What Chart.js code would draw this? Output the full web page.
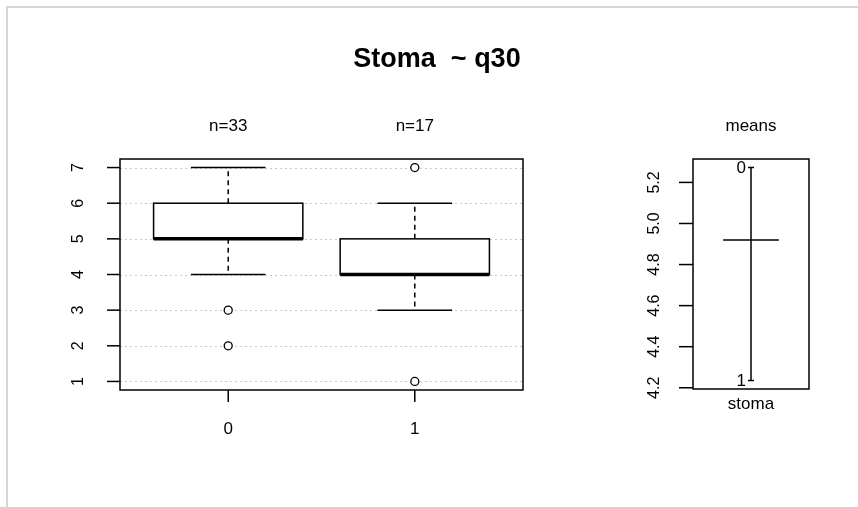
<!DOCTYPE html>
<html>
<head>
<meta charset="utf-8">
<script src="https://cdn.jsdelivr.net/npm/chart.js@4.4.1/dist/chart.umd.min.js"></script>
<style>
  body { margin: 0; background: #fff; }
  #wrap { position: relative; width: 858px; height: 507px; overflow: hidden; }
  #frame { position: absolute; left: 6px; top: 6px; width: 860px; height: 510px;
           border-left: 2px solid #d6d6d6; border-top: 2px solid #d6d6d6; }
  canvas { position: absolute; left: 0; top: 0; }
</style>
</head>
<body>
<div id="wrap">
  <div id="frame"></div>
  <canvas id="boxChart" width="858" height="507"></canvas>
  <canvas id="meanChart" width="858" height="507"></canvas>
</div>
<script>
// boxplot of Stoma by q30
const groups = ['0', '1'];
const groupN = [33, 17];
const q1 = [5, 4];
const medians = [5, 4];
const q3 = [6, 5];
const whiskLo = [4, 3];
const whiskHi = [7, 6];
const outliers = [[3, 2], [7, 1]];
const yTicks = [1, 2, 3, 4, 5, 6, 7];

// design plot (means)
const meanLevels = ['0', '1'];
const groupMeans = [5.2727, 4.2353];
const grandMean = 4.92;
const meanTicks = [4.2, 4.4, 4.6, 4.8, 5.0, 5.2];
const factorName = 'stoma';

const FONT = '"Liberation Sans", Arial, sans-serif';

// outliers as scatter points, x = group position (1, 2)
const outlierPoints = [];
outliers.forEach((vals, i) => {
    vals.forEach(v => outlierPoints.push({ x: i + 1, y: v }));
});

const boxPlugin = {
    id: 'boxPlugin',
    beforeDatasetsDraw(chart) {
        const { ctx, chartArea: a, scales: { x, y } } = chart;
        // dotted grid
        ctx.save();
        ctx.strokeStyle = '#c8c8c8';
        ctx.lineWidth = 1;
        ctx.setLineDash([2, 3]);
        yTicks.forEach(t => {
            const py = Math.round(y.getPixelForValue(t)) + 0.5;
            ctx.beginPath();
            ctx.moveTo(a.left, py);
            ctx.lineTo(a.right, py);
            ctx.stroke();
        });
        ctx.restore();
    },
    afterDatasetsDraw(chart) {
        const { ctx, chartArea: a, scales: { x, y } } = chart;
        ctx.save();
        ctx.strokeStyle = '#000';
        ctx.fillStyle = '#000';

        groups.forEach((g, i) => {
            const cx = x.getPixelForValue(i + 1);
            const bl = x.getPixelForValue(i + 1 - 0.4);
            const br = x.getPixelForValue(i + 1 + 0.4);
            const cl = x.getPixelForValue(i + 1 - 0.2);
            const cr = x.getPixelForValue(i + 1 + 0.2);
            const yq1 = y.getPixelForValue(q1[i]);
            const yq3 = y.getPixelForValue(q3[i]);
            const ylo = y.getPixelForValue(whiskLo[i]);
            const yhi = y.getPixelForValue(whiskHi[i]);
            const ymed = y.getPixelForValue(medians[i]);

            // whiskers (dashed)
            ctx.lineWidth = 1.5;
            ctx.setLineDash([5, 4]);
            ctx.beginPath();
            ctx.moveTo(cx, yq3); ctx.lineTo(cx, yhi);
            ctx.moveTo(cx, yq1); ctx.lineTo(cx, ylo);
            ctx.stroke();
            ctx.setLineDash([]);
            // caps
            ctx.beginPath();
            ctx.moveTo(cl, yhi); ctx.lineTo(cr, yhi);
            ctx.moveTo(cl, ylo); ctx.lineTo(cr, ylo);
            ctx.stroke();
            // box
            ctx.fillStyle = '#fff';
            ctx.fillRect(bl, yq3, br - bl, yq1 - yq3);
            ctx.strokeRect(bl, yq3, br - bl, yq1 - yq3);
            // median
            ctx.lineWidth = 3.5;
            ctx.beginPath();
            ctx.moveTo(bl, ymed); ctx.lineTo(br, ymed);
            ctx.stroke();
            ctx.fillStyle = '#000';

            // x tick + label
            ctx.lineWidth = 1.5;
            ctx.beginPath();
            ctx.moveTo(cx, a.bottom); ctx.lineTo(cx, a.bottom + 12);
            ctx.stroke();
            ctx.font = '17px ' + FONT;
            ctx.textAlign = 'center';
            ctx.textBaseline = 'middle';
            ctx.fillText(g, cx, a.bottom + 39);
            // n= labels
            ctx.fillText('n=' + groupN[i], cx, a.top - 33);
        });

        // frame
        ctx.lineWidth = 1.5;
        ctx.strokeRect(a.left, a.top, a.right - a.left, a.bottom - a.top);

        // y ticks + rotated labels
        ctx.font = '16px ' + FONT;
        yTicks.forEach(t => {
            const py = y.getPixelForValue(t);
            ctx.beginPath();
            ctx.moveTo(a.left - 13, py); ctx.lineTo(a.left, py);
            ctx.stroke();
            ctx.save();
            ctx.translate(a.left - 41, py);
            ctx.rotate(-Math.PI / 2);
            ctx.textAlign = 'center';
            ctx.textBaseline = 'middle';
            ctx.fillText(String(t), 0, 0);
            ctx.restore();
        });

        // title
        ctx.font = 'bold 27px ' + FONT;
        ctx.textAlign = 'center';
        ctx.textBaseline = 'middle';
        ctx.fillText('Stoma  ~ q30', 437, 60);
        ctx.restore();
    }
};

new Chart(document.getElementById('boxChart'), {
    type: 'scatter',
    data: {
        datasets: [{
            data: outlierPoints,
            pointStyle: 'circle',
            pointRadius: 4,
            pointBackgroundColor: '#fff',
            pointBorderColor: '#000',
            pointBorderWidth: 1.3
        }]
    },
    options: {
        responsive: false,
        animation: false,
        layout: { padding: { left: 120, right: 335, top: 159, bottom: 117 } },
        plugins: { legend: { display: false }, tooltip: { enabled: false } },
        scales: {
            x: { type: 'linear', min: 0.42, max: 2.58, display: false },
            y: { type: 'linear', min: 0.76, max: 7.24, display: false }
        }
    },
    plugins: [boxPlugin]
});

// means panel
const meanHalfWidth = 0.24;
const meanPlugin = {
    id: 'meanPlugin',
    afterDatasetsDraw(chart) {
        const { ctx, chartArea: a, scales: { x, y } } = chart;
        ctx.save();
        ctx.strokeStyle = '#000';
        ctx.fillStyle = '#000';
        ctx.lineWidth = 1.5;
        ctx.strokeRect(a.left, a.top, a.right - a.left, a.bottom - a.top);

        ctx.font = '16px ' + FONT;
        meanTicks.forEach(t => {
            const py = y.getPixelForValue(t);
            ctx.beginPath();
            ctx.moveTo(a.left - 14, py); ctx.lineTo(a.left, py);
            ctx.stroke();
            ctx.save();
            ctx.translate(a.left - 38, py);
            ctx.rotate(-Math.PI / 2);
            ctx.textAlign = 'center';
            ctx.textBaseline = 'middle';
            ctx.fillText(t.toFixed(1), 0, 0);
            ctx.restore();
        });

        // level labels next to the means
        ctx.font = '17px ' + FONT;
        ctx.textAlign = 'right';
        ctx.textBaseline = 'middle';
        meanLevels.forEach((lv, i) => {
            ctx.fillText(lv, x.getPixelForValue(1) - 5, y.getPixelForValue(groupMeans[i]) + 1);
        });

        ctx.textAlign = 'center';
        ctx.fillText('means', x.getPixelForValue(1), a.top - 33);
        ctx.fillText(factorName, x.getPixelForValue(1), a.bottom + 15);
        ctx.restore();
    }
};

new Chart(document.getElementById('meanChart'), {
    type: 'scatter',
    data: {
        datasets: [
            {
                data: groupMeans.map(m => ({ x: 1, y: m })),
                showLine: true,
                borderColor: '#000',
                borderWidth: 1.5,
                pointStyle: 'line',
                pointRadius: 3,
                pointBorderColor: '#000',
                pointBorderWidth: 1.5
            },
            {
                data: [{ x: 1 - meanHalfWidth, y: grandMean }, { x: 1 + meanHalfWidth, y: grandMean }],
                showLine: true,
                borderColor: '#000',
                borderWidth: 1.5,
                pointRadius: 0
            }
        ]
    },
    options: {
        responsive: false,
        animation: false,
        layout: { padding: { left: 693, right: 49, top: 159, bottom: 118 } },
        plugins: { legend: { display: false }, tooltip: { enabled: false } },
        scales: {
            x: { type: 'linear', min: 0.5, max: 1.5, display: false },
            y: { type: 'linear', min: 4.194, max: 5.314, display: false }
        }
    },
    plugins: [meanPlugin]
});
</script>
</body>
</html>
